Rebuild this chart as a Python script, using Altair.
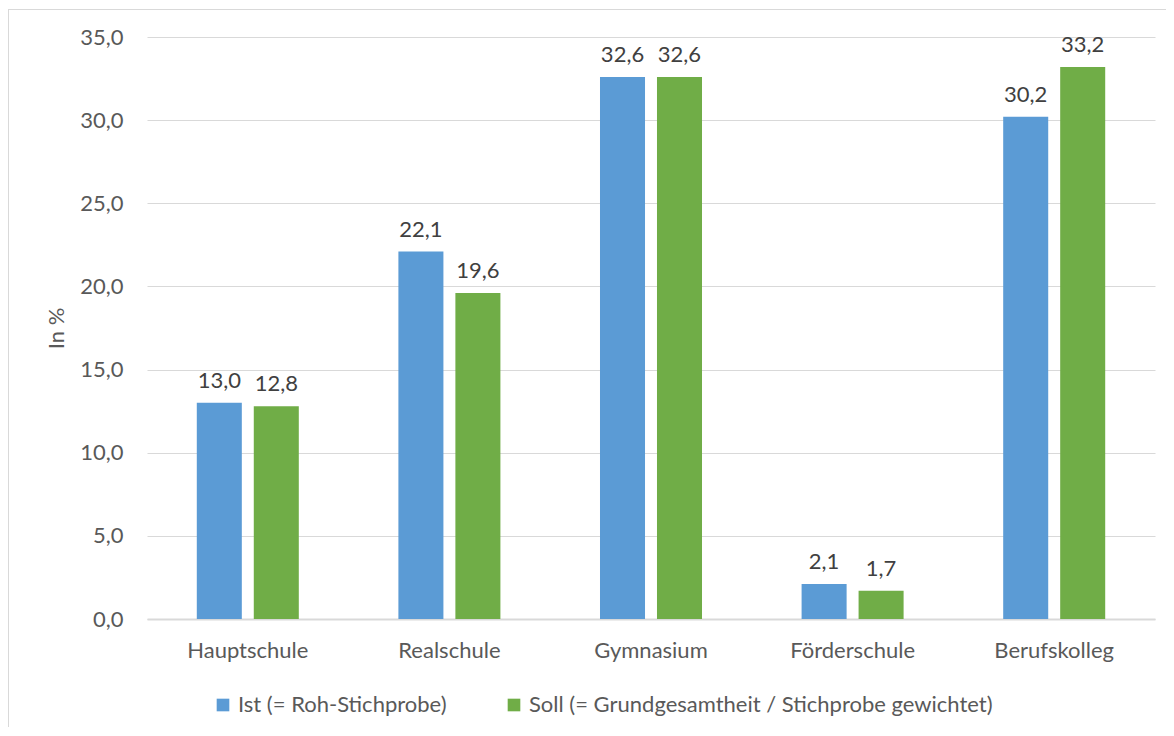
import altair as alt
import pandas as pd

categories = ["Hauptschule", "Realschule", "Gymnasium", "Förderschule", "Berufskolleg"]
series = ["Ist (= Roh-Stichprobe)", "Soll (= Grundgesamtheit / Stichprobe gewichtet)"]
ist_values = [13.0, 22.1, 32.6, 2.1, 30.2]
soll_values = [12.8, 19.6, 32.6, 1.7, 33.2]
y_ticks = [0, 5, 10, 15, 20, 25, 30, 35]
colors = ["#5b9bd5", "#70ad47"]

rows = []
for c, a, b in zip(categories, ist_values, soll_values):
    rows.append({"Schulform": c, "Serie": series[0], "Wert": a})
    rows.append({"Schulform": c, "Serie": series[1], "Wert": b})
df = pd.DataFrame(rows)
df["Label"] = df["Wert"].map(lambda v: f"{v:.1f}".replace(".", ","))

FONT = "Lato"
FS = 22
W, H = 1008, 582
PAD = {"left": 139, "top": 29, "right": 11, "bottom": 108}

x = alt.X(
    "Schulform:N", sort=categories,
    scale=alt.Scale(paddingInner=0.494, paddingOuter=0.247),
    axis=alt.Axis(title=None, labelAngle=0, ticks=False, tickSize=0, domain=True,
                  domainColor="#d9d9d9", domainWidth=2, labelPadding=21,
                  labelFont=FONT, labelFontSize=FS, labelColor="#595959", grid=False),
)
xo = alt.XOffset("Serie:N", sort=series, scale=alt.Scale(paddingInner=0.21, paddingOuter=0))
y = alt.Y(
    "Wert:Q", scale=alt.Scale(domain=[0, 35], nice=False),
    axis=alt.Axis(values=y_ticks, title="In %", ticks=False, tickSize=0, domain=False,
                  labelExpr="replace(format(datum.value, '.1f'), '.', ',')",
                  labelPadding=24, labelFont=FONT, labelFontSize=FS, labelColor="#595959",
                  titleFont=FONT, titleFontSize=FS, titleFontWeight="normal",
                  titleColor="#595959", titlePadding=11,
                  gridColor="#d9d9d9", gridWidth=1),
)
color = alt.Color(
    "Serie:N", sort=series, scale=alt.Scale(domain=series, range=colors),
    legend=alt.Legend(title=None, orient="none", legendX=65, legendY=657,
                      direction="horizontal", symbolType="square", symbolSize=160,
                      symbolStrokeWidth=0, labelFont=FONT, labelFontSize=FS,
                      labelColor="#595959", columnPadding=56, labelOffset=4, padding=0,
                      labelLimit=0),
)

base = alt.Chart(df)
bars = base.mark_bar().encode(x=x, xOffset=xo, y=y, color=color)
labels = base.mark_text(font=FONT, fontSize=FS, color="#404040", dy=-15,
                        baseline="alphabetic").encode(
    x=x, xOffset=xo, y=y, text="Label:N")

one = pd.DataFrame({"f": [0]})
frame_left = alt.Chart(one).mark_rule(stroke="#d9d9d9", strokeWidth=1).encode(
    x=alt.value(-138.5), y=alt.value(-28), y2=alt.value(H + PAD["bottom"]))
frame_top = alt.Chart(one).mark_rule(stroke="#d9d9d9", strokeWidth=1).encode(
    x=alt.value(-139), x2=alt.value(W + PAD["right"]), y=alt.value(-27.5))

chart = alt.layer(frame_left, frame_top, bars, labels).properties(
    width=W, height=H,
    autosize=alt.AutoSizeParams(type="none"),
    padding=PAD,
).configure_view(stroke=None)

chart.save("out.html", embed_options={"renderer": "svg", "actions": False})
